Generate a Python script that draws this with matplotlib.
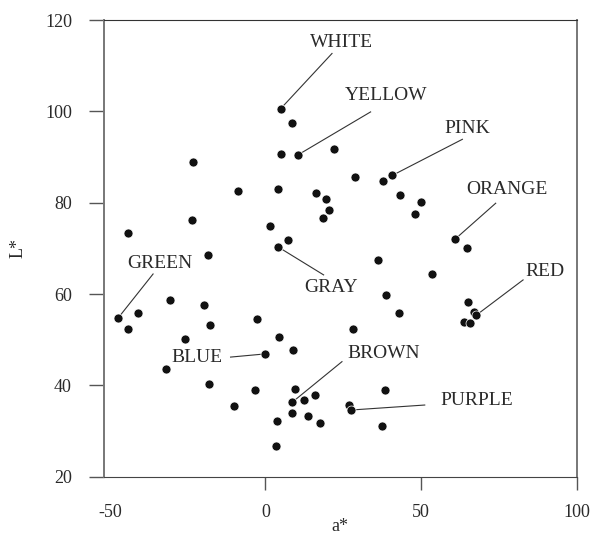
import numpy as np
import matplotlib.pyplot as plt

# a*, L* values
a_star = [4.9, 8.6, 4.9, 10.5, -23.4, 22.0, -8.7, 4.1, 28.8, 37.9, 40.8, 16.4,
          19.5, 43.2, 50.0, 20.3, 18.5, 48.0, -23.6, 1.6, -44.0, 7.1, 3.9, -18.6,
          60.9, 64.9, 36.3, 53.6, -47.4, -44.0, -41.0, -30.7, -19.6, -17.9, -25.9,
          -2.6, 4.5, 8.8, 0.0, -32.1, -18.1, -3.3, -10.2, 9.6, 8.6, 8.6, 3.7, 3.3,
          38.6, 42.9, 65.1, 67.1, 67.8, 63.8, 65.6, 28.3, 12.4, 15.8, 13.8, 17.7,
          26.9, 27.4, 38.3, 37.6]
L_star = [100.6, 97.4, 90.6, 90.5, 88.9, 91.7, 82.6, 83.1, 85.6, 84.7, 86.0, 82.2,
          80.8, 81.8, 80.1, 78.4, 76.6, 77.6, 76.3, 75.0, 73.3, 71.8, 70.4, 68.5,
          72.0, 70.1, 67.5, 64.5, 54.7, 52.4, 55.8, 58.7, 57.7, 53.2, 50.1,
          54.6, 50.5, 47.7, 46.9, 43.6, 40.3, 39.0, 35.5, 39.2, 36.3, 34.0, 32.3, 26.8,
          59.7, 55.9, 58.3, 56.1, 55.4, 53.9, 53.6, 52.3, 36.7, 38.0, 33.3, 31.7,
          35.7, 34.6, 39.0, 31.2]

# colour names: point (a*, L*), end of leader line, label position
names = ['WHITE', 'YELLOW', 'PINK', 'ORANGE', 'RED', 'GRAY', 'GREEN', 'BLUE', 'BROWN', 'PURPLE']
name_pt = [(4.9, 100.6), (10.5, 90.5), (40.8, 86.0), (60.9, 72.0), (67.8, 55.4),
           (3.9, 70.4), (-47.4, 54.7), (0.0, 46.9), (8.6, 36.3), (27.4, 34.6)]
line_end = [(21.4, 112.7), (33.8, 99.9), (63.3, 93.9), (74.0, 79.9), (82.8, 63.1),
            (18.7, 64.2), (-36.1, 64.4), (-11.2, 46.2), (24.6, 45.2), (51.2, 35.7)]
label_pos = [(24.5, 115.2), (38.7, 103.6), (64.9, 96.3), (77.6, 82.8), (89.7, 65.0),
             (21.2, 61.5), (-33.8, 66.7), (-22.1, 46.1), (38.1, 47.0), (67.9, 36.6)]

plt.rcParams['font.family'] = ['Liberation Serif', 'DejaVu Serif']
txt_col = '#2a2a2a'

fig = plt.figure(figsize=(5.92, 5.44), dpi=100)
ax = fig.add_axes([0.175, 0.1237, 0.799, 0.8393])

for (px, py), (ex, ey) in zip(name_pt, line_end):
    ax.plot([px, ex], [py, ey], color='#333333', lw=0.8, zorder=1)
ax.scatter(a_star, L_star, s=42, color='#111111', edgecolors='white',
           linewidths=0.5, zorder=3)
for nm, (tx, ty) in zip(names, label_pos):
    ax.text(tx, ty, nm, ha='center', va='center', fontsize=14, color=txt_col)

ax.set_xlim(-52, 100)
ax.set_ylim(20, 120)
ax.set_xticks([-50, 0, 50, 100])
ax.set_xticklabels(['-50', '0', '50', '100'])
ax.set_yticks([20, 40, 60, 80, 100, 120])
ax.xaxis.get_major_ticks()[0].tick1line.set_visible(False)
ax.tick_params(axis='x', direction='out', length=9.5, width=1, color='#555555',
               pad=10, labelsize=13, labelcolor=txt_col)
ax.tick_params(axis='y', direction='out', length=10.8, width=1, color='#555555',
               pad=12, labelsize=13, labelcolor=txt_col)

ax.spines['left'].set_color('#777777')
ax.spines['left'].set_linewidth(1.4)
ax.spines['right'].set_color('#777777')
ax.spines['right'].set_linewidth(1.4)
ax.spines['top'].set_color('#333333')
ax.spines['bottom'].set_color('#444444')

ax.text(0.5, -0.110, 'a*', transform=ax.transAxes, ha='center', va='center',
        fontsize=13, color=txt_col)
ax.text(-0.181, 0.5, 'L*', transform=ax.transAxes, ha='center', va='center',
        rotation=90, fontsize=13, color=txt_col)

fig.savefig('out.png', dpi=100, facecolor='white')
